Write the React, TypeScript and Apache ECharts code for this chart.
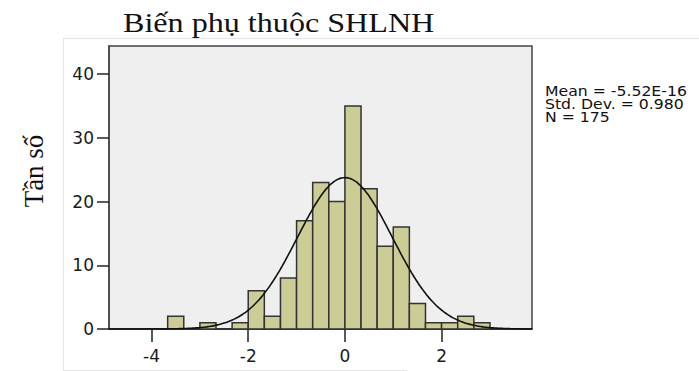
import React, { useEffect, useRef } from "react";
import * as echarts from "echarts";

// Histogram data: bins of width 1/3 starting at -11/3
const binWidth = 1 / 3;
const firstBinStart = -11 / 3;
const counts = [2, 0, 1, 0, 1, 6, 2, 8, 17, 23, 20, 35, 22, 13, 16, 4, 1, 1, 2, 1];

// Stats shown in the legend
const meanValue = -5.52e-16;
const stdDev = 0.98;
const nTotal = 175;
const statLines = ["Mean = -5.52E-16", "Std. Dev. = 0.980", "N = 175"];

const xTickValues = [-4, -2, 0, 2];
const titleText = "Biến phụ thuộc SHLNH";
const yTitle = "Tần số";

const X_MIN = -4.88;
const X_MAX = 3.87;

export default function App() {
  const ref = useRef<HTMLDivElement>(null);
  useEffect(() => {
    if (!ref.current) return;
    const chart = echarts.init(ref.current, null, { renderer: "svg" });

    const barData = counts
      .map((c, i) => {
        const x0 = firstBinStart + i * binWidth;
        return [x0, x0 + binWidth, c];
      })
      .filter((d) => d[2] > 0);

    const curve: number[][] = [];
    const scale = (nTotal * binWidth) / (stdDev * Math.sqrt(2 * Math.PI));
    for (let x = X_MIN; x <= X_MAX + 1e-9; x += 0.05) {
      const z = (x - meanValue) / stdDev;
      curve.push([x, scale * Math.exp(-0.5 * z * z)]);
    }

    const labelFont = { fontFamily: "DejaVu Sans", fontSize: 17, color: "#1a1a1a" };

    chart.setOption({
      animation: false,
      grid: {
        left: 109,
        top: 46,
        width: 423,
        height: 283,
        show: true,
        backgroundColor: "#efefef",
        borderColor: "#444",
        borderWidth: 1.5,
      },
      xAxis: {
        type: "value",
        min: X_MIN,
        max: X_MAX,
        splitLine: { show: false },
        axisLine: { show: true, onZero: false, lineStyle: { color: "#222", width: 1.5 } },
        axisTick: {
          show: true,
          customValues: xTickValues,
          length: 13,
          lineStyle: { color: "#222", width: 1.5 },
        },
        axisLabel: { ...labelFont, customValues: xTickValues, margin: 18 },
      },
      yAxis: {
        type: "value",
        min: 0,
        max: 44.4,
        interval: 10,
        splitLine: { show: false },
        axisLine: { show: true, onZero: false, lineStyle: { color: "#444", width: 1.5 } },
        axisTick: { show: true, length: 12, lineStyle: { color: "#222", width: 1.5 } },
        axisLabel: { ...labelFont, margin: 15, showMaxLabel: false },
      },
      series: [
        {
          type: "custom",
          data: barData,
          encode: { x: [0, 1], y: 2 },
          z: 2,
          renderItem: (params: any, api: any) => {
            const x0 = api.value(0);
            const x1 = api.value(1);
            const c = api.value(2);
            const p0 = api.coord([x0, c]);
            const p1 = api.coord([x1, 0]);
            return {
              type: "rect",
              shape: { x: p0[0], y: p0[1], width: p1[0] - p0[0], height: p1[1] - p0[1] },
              style: { fill: "#cccc96", stroke: "#333", lineWidth: 1.5 },
            };
          },
        },
        {
          type: "line",
          data: curve,
          smooth: true,
          showSymbol: false,
          symbol: "none",
          z: 3,
          lineStyle: { color: "#111", width: 1.6 },
        },
      ],
      graphic: [
        { type: "line", shape: { x1: 63.5, y1: 38.5, x2: 63.5, y2: 371 }, style: { stroke: "#e4e4e4", lineWidth: 1 } },
        { type: "line", shape: { x1: 63, y1: 38.5, x2: 699, y2: 38.5 }, style: { stroke: "#e4e4e4", lineWidth: 1 } },
        { type: "line", shape: { x1: 63, y1: 370.5, x2: 407, y2: 370.5 }, style: { stroke: "#e4e4e4", lineWidth: 1 } },
        {
          type: "text",
          x: 123,
          y: 23,
          scaleX: 1.19,
          style: {
            text: titleText,
            fontFamily: "Liberation Serif",
            fontSize: 27,
            fill: "#111",
            align: "left",
            verticalAlign: "middle",
          },
        },
        {
          type: "text",
          x: 34,
          y: 171,
          rotation: Math.PI / 2,
          style: {
            text: yTitle,
            fontFamily: "Liberation Serif",
            fontSize: 27,
            fill: "#111",
            align: "center",
            verticalAlign: "middle",
          },
        },
        ...statLines.map((t, i) => ({
          type: "text",
          x: 545,
          y: 91 + i * 13,
          scaleX: 1.12,
          style: {
            text: t,
            fontFamily: "DejaVu Sans",
            fontSize: 14,
            lineHeight: 12.5,
            fill: "#111",
            align: "left",
            verticalAlign: "middle",
          },
        })),
      ],
    });
    return () => chart.dispose();
  }, []);
  return (
    <div
      ref={ref}
      style={{ position: "fixed", left: 0, top: 0, width: 699, height: 371, background: "#fff" }}
    />
  );
}
